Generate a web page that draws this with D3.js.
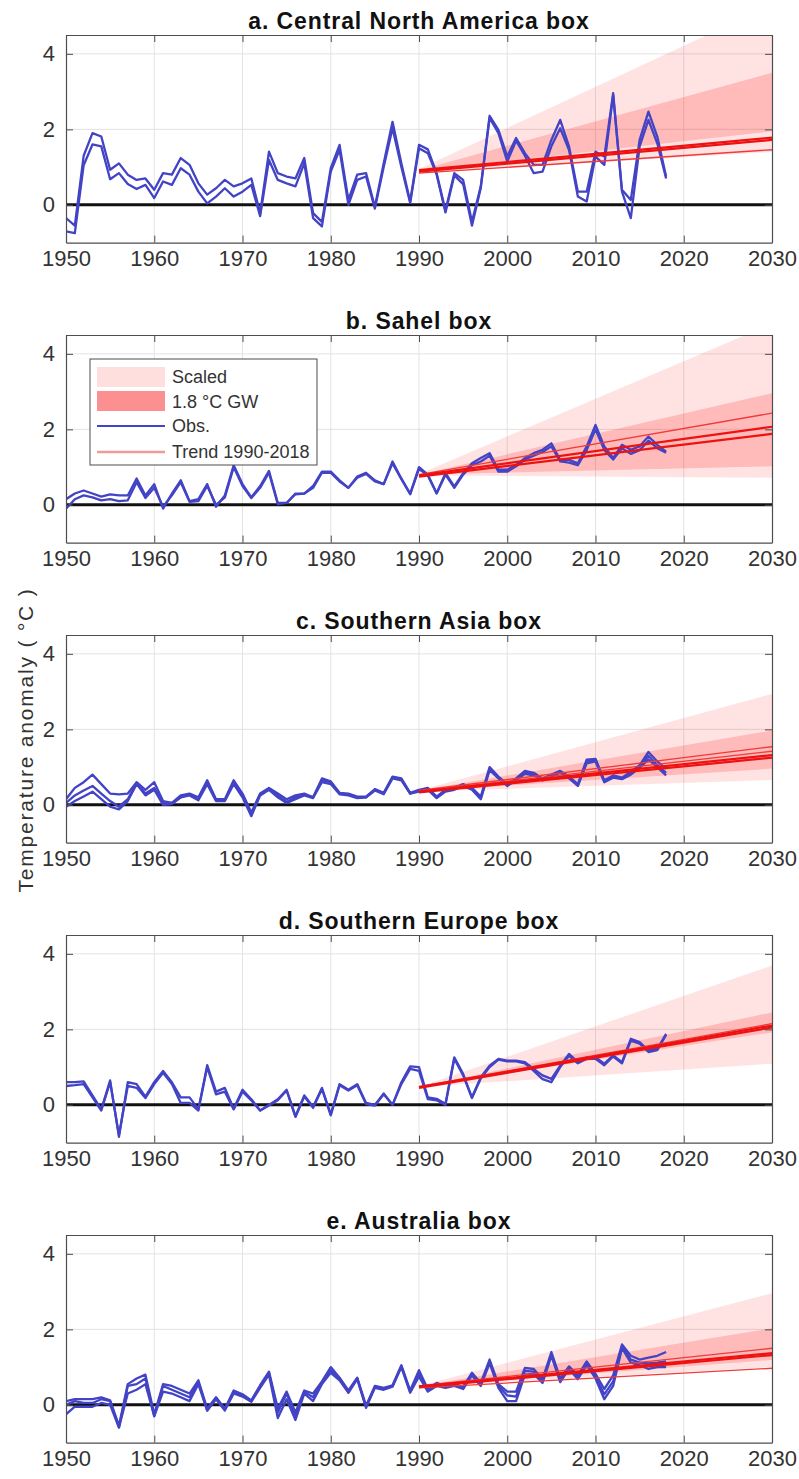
<!DOCTYPE html>
<html><head><meta charset="utf-8">
<script src="https://cdn.jsdelivr.net/npm/d3@7"></script>
<style>body{margin:0;background:#fff} svg{display:block;font-family:"Liberation Sans",Arial,Helvetica,sans-serif}</style>
</head><body>
<svg id="chart" width="799" height="1479"></svg>
<script>
// ---------------- DATA ----------------
const years = d3.range(1950, 2019);
const titles = ["a. Central North America box", "b. Sahel box", "c. Southern Asia box", "d. Southern Europe box", "e. Australia box"];
const xTicks = [1950, 1960, 1970, 1980, 1990, 2000, 2010, 2020, 2030];
const yTicks = [0, 2, 4];
const yLabel = "Temperature anomaly ( °C )";
const legendLabels = ["Scaled", "1.8 °C GW", "Obs.", "Trend 1990-2018"];

// a. Central North America
const obsA_a = [-0.35,-0.55,1.3,1.9,1.81,0.93,1.1,0.8,0.66,0.7,0.4,0.84,0.8,1.24,1.06,0.57,0.27,0.44,0.66,0.49,0.57,0.7,-0.22,1.41,0.84,0.75,0.7,1.24,-0.22,-0.45,0.97,1.59,0.13,0.8,0.84,-0.05,1.1,2.2,1.1,0.09,1.59,1.47,0.84,-0.15,0.84,0.66,-0.45,0.49,2.36,1.99,1.28,1.77,1.37,1.06,1.06,1.72,2.25,1.55,0.35,0.35,1.41,1.28,2.96,0.4,0.13,1.72,2.47,1.81,0.75];
const obsB_a = [-0.7,-0.75,1.05,1.6,1.55,0.68,0.84,0.55,0.42,0.53,0.18,0.62,0.53,0.97,0.8,0.35,0.04,0.22,0.44,0.22,0.35,0.53,-0.3,1.19,0.66,0.57,0.49,1.1,-0.35,-0.57,0.88,1.46,0.0,0.66,0.75,-0.1,1.0,2.03,1.0,0.05,1.5,1.37,0.8,-0.2,0.78,0.55,-0.55,0.45,2.3,1.9,1.15,1.7,1.3,0.84,0.88,1.55,2.03,1.45,0.22,0.09,1.28,1.06,2.9,0.35,-0.35,1.55,2.25,1.63,0.7];
// b. Sahel
const obsA_b = [0.15,0.3,0.38,0.3,0.22,0.28,0.25,0.25,0.7,0.25,0.55,-0.1,0.3,0.65,0.1,0.15,0.55,-0.05,0.25,1.05,0.55,0.2,0.5,0.9,0.05,0.05,0.3,0.3,0.5,0.88,0.88,0.65,0.45,0.75,0.85,0.65,0.55,1.15,0.7,0.3,1.0,0.8,0.31,0.84,0.49,0.84,1.1,1.24,1.37,0.93,0.93,1.06,1.24,1.37,1.46,1.63,1.19,1.19,1.1,1.55,2.12,1.55,1.24,1.59,1.46,1.55,1.81,1.59,1.41];
const obsB_b = [-0.1,0.15,0.25,0.2,0.12,0.15,0.1,0.12,0.6,0.18,0.45,-0.05,0.25,0.6,0.08,0.1,0.5,0.0,0.2,1.0,0.5,0.18,0.45,0.85,0.02,0.05,0.28,0.3,0.45,0.85,0.85,0.62,0.45,0.72,0.82,0.62,0.55,1.1,0.68,0.28,0.95,0.78,0.3,0.8,0.45,0.8,1.05,1.15,1.3,0.88,0.88,1.02,1.2,1.3,1.4,1.55,1.15,1.12,1.05,1.45,2.0,1.45,1.2,1.5,1.35,1.45,1.7,1.5,1.38];
// c. Southern Asia
const obsA_c = [0.15,0.45,0.6,0.8,0.55,0.3,0.28,0.3,0.6,0.4,0.6,0.1,0.05,0.25,0.3,0.2,0.65,0.15,0.15,0.65,0.3,-0.2,0.3,0.45,0.3,0.15,0.25,0.3,0.2,0.7,0.62,0.32,0.3,0.22,0.22,0.42,0.32,0.75,0.7,0.32,0.4,0.45,0.22,0.4,0.45,0.55,0.45,0.22,1.0,0.75,0.55,0.7,0.9,0.85,0.7,0.8,0.9,0.75,0.55,1.2,1.22,0.65,0.78,0.72,0.88,1.05,1.4,1.15,0.95];
const obsB_c = [0.05,0.25,0.38,0.5,0.3,0.1,-0.05,0.15,0.58,0.3,0.45,0.05,0.05,0.2,0.28,0.15,0.6,0.12,0.12,0.6,0.25,-0.25,0.28,0.42,0.25,0.08,0.2,0.28,0.2,0.65,0.6,0.3,0.28,0.2,0.2,0.4,0.3,0.72,0.68,0.3,0.38,0.42,0.2,0.38,0.42,0.52,0.42,0.18,0.95,0.72,0.52,0.68,0.85,0.82,0.68,0.78,0.88,0.72,0.52,1.15,1.18,0.62,0.75,0.7,0.85,1.0,1.3,1.05,0.85];
const obsC_c = [-0.05,0.1,0.22,0.35,0.15,-0.05,-0.12,0.1,0.55,0.25,0.4,0.0,0.02,0.2,0.25,0.12,0.55,0.1,0.1,0.55,0.2,-0.3,0.25,0.4,0.2,0.05,0.15,0.25,0.18,0.6,0.55,0.28,0.25,0.18,0.2,0.38,0.28,0.7,0.65,0.3,0.35,0.4,0.18,0.35,0.4,0.5,0.4,0.15,0.92,0.7,0.5,0.65,0.82,0.78,0.65,0.75,0.85,0.7,0.5,1.1,1.15,0.6,0.72,0.68,0.8,0.98,1.2,1.0,0.78];
// d. Southern Europe
const obsA_d = [0.6,0.6,0.62,0.25,-0.12,0.65,-0.85,0.6,0.55,0.22,0.6,0.9,0.6,0.2,0.2,-0.12,1.05,0.35,0.45,-0.1,0.4,0.15,-0.15,0.0,0.15,0.4,-0.3,0.25,-0.05,0.45,-0.25,0.55,0.4,0.55,0.05,0.0,0.3,0.0,0.6,1.02,1.0,0.2,0.16,0.03,1.26,0.82,0.2,0.73,1.04,1.22,1.17,1.17,1.13,0.95,0.78,0.69,1.04,1.35,1.13,1.26,1.26,1.09,1.31,1.13,1.75,1.66,1.44,1.48,1.88];
const obsB_d = [0.5,0.52,0.55,0.2,-0.15,0.6,-0.8,0.5,0.45,0.18,0.55,0.85,0.55,0.05,0.05,-0.15,1.0,0.28,0.35,-0.12,0.35,0.12,-0.15,-0.02,0.12,0.38,-0.32,0.22,-0.08,0.42,-0.28,0.52,0.38,0.52,0.02,-0.02,0.28,0.0,0.55,0.95,0.9,0.15,0.12,0.0,1.22,0.78,0.18,0.7,1.0,1.2,1.15,1.15,1.1,0.9,0.68,0.6,1.0,1.3,1.1,1.22,1.22,1.05,1.28,1.1,1.7,1.62,1.4,1.45,1.85];
// e. Australia
const obsA_e = [0.1,0.15,0.15,0.15,0.2,0.12,-0.55,0.55,0.7,0.8,-0.25,0.55,0.5,0.4,0.3,0.65,-0.1,0.2,-0.1,0.38,0.28,0.12,0.52,0.88,-0.1,0.35,-0.2,0.38,0.3,0.62,1.0,0.72,0.38,0.72,-0.02,0.5,0.45,0.52,1.05,0.38,0.92,0.42,0.58,0.5,0.55,0.48,0.85,0.58,1.2,0.55,0.35,0.35,0.98,0.95,0.68,1.4,0.7,1.02,0.78,1.15,0.82,0.42,0.78,1.6,1.3,1.2,1.25,1.3,1.4];
const obsB_e = [0.0,0.1,0.05,0.05,0.15,0.1,-0.6,0.5,0.55,0.7,-0.3,0.5,0.4,0.3,0.2,0.6,-0.15,0.18,-0.12,0.35,0.25,0.1,0.5,0.85,-0.2,0.3,-0.3,0.35,0.2,0.6,0.92,0.7,0.35,0.7,-0.05,0.48,0.42,0.5,1.02,0.35,0.85,0.4,0.55,0.48,0.52,0.45,0.82,0.55,1.15,0.5,0.25,0.22,0.9,0.88,0.62,1.35,0.65,0.98,0.72,1.1,0.75,0.28,0.62,1.55,1.2,1.12,1.1,1.12,1.15];
const obsC_e = [-0.25,-0.05,-0.05,-0.05,0.05,0.0,-0.6,0.3,0.4,0.55,-0.3,0.35,0.3,0.2,0.1,0.55,-0.15,0.15,-0.15,0.3,0.22,0.08,0.45,0.8,-0.35,0.15,-0.4,0.3,0.1,0.55,0.85,0.65,0.32,0.68,-0.08,0.45,0.4,0.48,1.0,0.32,0.75,0.35,0.5,0.45,0.5,0.42,0.78,0.5,1.1,0.45,0.1,0.1,0.8,0.82,0.58,1.3,0.6,0.95,0.68,1.05,0.7,0.15,0.5,1.5,1.12,1.05,0.95,1.0,1.0];

// projection bands & trends (value at 1990 and at 2030)
const bandYears = [1990, 2030];
const scaledLow_a = [0.85, 1.4],  scaledHigh_a = [0.95, 5.3];
const gwLow_a     = [0.9, 1.95],  gwHigh_a     = [0.92, 3.5];
const scaledLow_b = [0.78, 0.72], scaledHigh_b = [0.82, 4.8];
const gwLow_b     = [0.8, 1.02],  gwHigh_b     = [0.8, 2.96];
const scaledLow_c = [0.35, 0.66], scaledHigh_c = [0.38, 2.94];
const gwLow_c     = [0.36, 0.96], gwHigh_c     = [0.38, 1.97];
const scaledLow_d = [0.47, 1.09], scaledHigh_d = [0.47, 3.69];
const gwLow_d     = [0.47, 1.92], gwHigh_d     = [0.47, 2.45];
const scaledLow_e = [0.48, 1.0],  scaledHigh_e = [0.5, 2.96];
const gwLow_e     = [0.48, 1.19], gwHigh_e     = [0.5, 2.03];

const trendYears = [1990, 2030];
const trendThick_a = [[0.92, 1.78], [0.88, 1.72]], trendThin_a = [[0.84, 1.46]];
const trendThick_b = [[0.78, 2.07], [0.75, 1.88]], trendThin_b = [[0.8, 2.43]];
const trendThick_c = [[0.35, 1.32], [0.33, 1.25]], trendThin_c = [[0.38, 1.54], [0.36, 1.42]];
const trendThick_d = [[0.47, 2.1], [0.45, 2.05]],  trendThin_d = [[0.48, 2.15]];
const trendThick_e = [[0.49, 1.37], [0.47, 1.32]], trendThin_e = [[0.5, 1.5], [0.45, 0.97]];

const panels = [
  {title: titles[0], obs: [obsA_a, obsB_a], scaled: [scaledLow_a, scaledHigh_a], gw: [gwLow_a, gwHigh_a], thick: trendThick_a, thin: trendThin_a},
  {title: titles[1], obs: [obsA_b, obsB_b], scaled: [scaledLow_b, scaledHigh_b], gw: [gwLow_b, gwHigh_b], thick: trendThick_b, thin: trendThin_b},
  {title: titles[2], obs: [obsA_c, obsB_c, obsC_c], scaled: [scaledLow_c, scaledHigh_c], gw: [gwLow_c, gwHigh_c], thick: trendThick_c, thin: trendThin_c},
  {title: titles[3], obs: [obsA_d, obsB_d], scaled: [scaledLow_d, scaledHigh_d], gw: [gwLow_d, gwHigh_d], thick: trendThick_d, thin: trendThin_d},
  {title: titles[4], obs: [obsA_e, obsB_e, obsC_e], scaled: [scaledLow_e, scaledHigh_e], gw: [gwLow_e, gwHigh_e], thick: trendThick_e, thin: trendThin_e}
];

// ---------------- DRAW ----------------
const svg = d3.select("#chart");
const X0 = 66, X1 = 772, PH = 207.6;
const x = d3.scaleLinear().domain([1950, 2030]).range([X0, X1]);
const BLUE = "#4343c6", AX = "#4d4d4d";

panels.forEach((p, i) => {
  const top = 35 + 300 * i;
  const y = d3.scaleLinear().domain([-1, 4.5]).range([top + PH, top]);
  const g = svg.append("g");
  const cid = "clip" + i;
  svg.append("clipPath").attr("id", cid).append("rect")
    .attr("x", X0).attr("y", top).attr("width", X1 - X0).attr("height", PH);

  // grid
  g.append("g").selectAll("line").data(xTicks.slice(1, -1)).join("line")
    .attr("x1", d => x(d)).attr("x2", d => x(d)).attr("y1", top).attr("y2", top + PH)
    .attr("stroke", "#e3e3e3").attr("stroke-width", 1);
  g.append("g").selectAll("line").data(yTicks).join("line")
    .attr("x1", X0).attr("x2", X1).attr("y1", d => y(d)).attr("y2", d => y(d))
    .attr("stroke", "#e3e3e3").attr("stroke-width", 1);

  const plot = g.append("g").attr("clip-path", `url(#${cid})`);
  const band = (lo, hi) => d3.area().x((d, k) => x(bandYears[k])).y0((d, k) => y(lo[k])).y1((d, k) => y(hi[k]))(bandYears);
  plot.append("path").attr("d", band(p.scaled[0], p.scaled[1])).attr("fill", "rgba(255,0,0,0.11)");
  plot.append("path").attr("d", band(p.gw[0], p.gw[1])).attr("fill", "rgba(255,0,0,0.18)");

  // zero line
  plot.append("line").attr("x1", X0).attr("x2", X1).attr("y1", y(0)).attr("y2", y(0))
    .attr("stroke", "#111").attr("stroke-width", 3);

  const line = d3.line().x((d, k) => x(years[k])).y(d => y(d));
  p.obs.forEach(s => {
    plot.append("path").attr("d", line(s)).attr("fill", "none")
      .attr("stroke", BLUE).attr("stroke-width", 2.3).attr("stroke-linejoin", "round");
  });

  const tline = d3.line().x((d, k) => x(trendYears[k])).y(d => y(d));
  p.thin.forEach(t => plot.append("path").attr("d", tline(t)).attr("fill", "none")
    .attr("stroke", "#f03a3a").attr("stroke-width", 1.3));
  p.thick.forEach(t => plot.append("path").attr("d", tline(t)).attr("fill", "none")
    .attr("stroke", "#ee1111").attr("stroke-width", 2.2));

  // axes
  const styleAxis = sel => {
    sel.select(".domain").attr("stroke", AX).attr("stroke-width", 1.2);
    sel.selectAll(".tick line").attr("stroke", AX);
    sel.selectAll("text").attr("fill", "#333").attr("font-size", 22)
      .attr("font-family", '"Liberation Sans", Arial, sans-serif');
  };
  g.append("g").attr("transform", `translate(0,${top + PH})`)
    .call(d3.axisBottom(x).tickValues(xTicks).tickFormat(d3.format("d")).tickSize(-7).tickSizeOuter(0).tickPadding(8))
    .call(styleAxis);
  g.append("g").attr("transform", `translate(0,${top})`)
    .call(d3.axisTop(x).tickValues(xTicks).tickFormat("").tickSize(-7).tickSizeOuter(0))
    .call(styleAxis);
  g.append("g").attr("transform", `translate(${X0},0)`)
    .call(d3.axisLeft(y).tickValues(yTicks).tickFormat(d3.format("d")).tickSize(-7).tickSizeOuter(0).tickPadding(11))
    .call(styleAxis);
  g.append("g").attr("transform", `translate(${X1},0)`)
    .call(d3.axisRight(y).tickValues(yTicks).tickFormat("").tickSize(-7).tickSizeOuter(0))
    .call(styleAxis);

  // title
  g.append("text").attr("x", (X0 + X1) / 2).attr("y", top - 6)
    .attr("text-anchor", "middle").attr("font-size", 23).attr("font-weight", "bold")
    .attr("letter-spacing", 0.9).attr("fill", "#111").text(p.title);

  // legend in panel b
  if (i === 1) {
    const lg = g.append("g").attr("transform", `translate(90,${top + 24})`);
    lg.append("rect").attr("width", 227).attr("height", 106).attr("fill", "#fff")
      .attr("stroke", AX).attr("stroke-width", 1);
    const rows = [18, 43, 67, 93];
    lg.append("rect").attr("x", 7).attr("y", 8).attr("width", 68).attr("height", 20).attr("fill", "#ffdede");
    lg.append("rect").attr("x", 7).attr("y", 32).attr("width", 68).attr("height", 20).attr("fill", "#fc8f8f");
    lg.append("line").attr("x1", 7).attr("x2", 75).attr("y1", rows[2]).attr("y2", rows[2])
      .attr("stroke", BLUE).attr("stroke-width", 2);
    lg.append("line").attr("x1", 7).attr("x2", 75).attr("y1", rows[3]).attr("y2", rows[3])
      .attr("stroke", "#f09a9a").attr("stroke-width", 2.5);
    lg.selectAll("text.lab").data(legendLabels).join("text").attr("class", "lab")
      .attr("x", 82).attr("y", (d, k) => rows[k]).attr("dy", "0.35em")
      .attr("font-size", 18).attr("fill", "#333").text(d => d);
  }
});

// y label
svg.append("text").attr("transform", "translate(33,740) rotate(-90)")
  .attr("text-anchor", "middle").attr("font-size", 21).attr("letter-spacing", 1.8)
  .attr("fill", "#333").text(yLabel);
</script>
</body></html>
